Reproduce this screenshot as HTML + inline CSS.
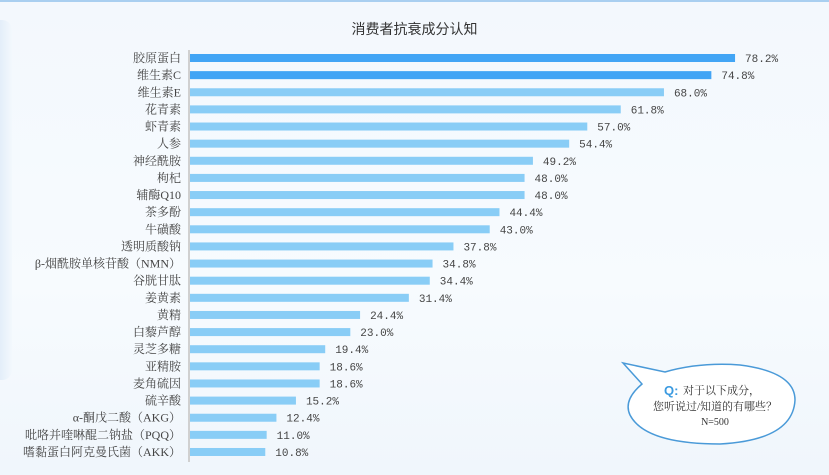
<!DOCTYPE html>
<html><head><meta charset="utf-8">
<style>
html,body{margin:0;padding:0;}
body{width:829px;height:475px;overflow:hidden;background:linear-gradient(#f3f8fd,#f7fbfe 60%,#f0f6fc);position:relative;font-family:"Liberation Serif","Noto Serif CJK SC",serif;}
#topbar{position:absolute;left:0;top:0;width:829px;height:2px;background:#a9cff0;}
#side{position:absolute;left:0;top:20px;width:12px;height:360px;background:linear-gradient(90deg,#e3eef9,#f3f8fd);border-radius:0 10px 10px 0;}
#title{position:absolute;left:0;width:829px;top:19px;text-align:center;font-family:"Liberation Sans","Noto Sans CJK SC",sans-serif;font-size:14px;color:#333;}
</style></head><body>
<div id="topbar"></div>
<div id="side"></div>
<div id="title">消费者抗衰成分认知</div>
<svg id="chart" width="829" height="475" style="position:absolute;left:0;top:0">
<line x1="189" y1="50" x2="189" y2="462" stroke="#d0d0d0" stroke-width="2"/>
<g id="bars"></g>
<g>
<path d="M623,363 L665,372 Q700,362 740,365 Q795,372 795,400 Q793,440 720,444 Q645,444 630,415 Q623,400 642,384 Z" fill="#fff" stroke="#4a9ad8" stroke-width="1.5"/>
<text x="664" y="395" font-size="13" font-weight="bold" fill="#3a9ae0" font-family="Liberation Sans, sans-serif">Q:</text>
<text x="683" y="394" font-size="11" fill="#333">对于以下成分，</text>
<text x="715" y="410" font-size="11" fill="#333" text-anchor="middle">您听说过/知道的有哪些？</text>
<text x="715" y="425" font-size="10" fill="#333" text-anchor="middle">N=500</text>
</g>
</svg>
<script>
const categories=["胶原蛋白","维生素C","维生素E","花青素","虾青素","人参","神经酰胺","枸杞","辅酶Q10","茶多酚","牛磺酸","透明质酸钠","β-烟酰胺单核苷酸（NMN）","谷胱甘肽","姜黄素","黄精","白藜芦醇","灵芝多糖","亚精胺","麦角硫因","硫辛酸","α-酮戊二酸（AKG）","吡咯并喹啉醌二钠盐（PQQ）","嗜黏蛋白阿克曼氏菌（AKK）"];
const values=[78.2,74.8,68.0,61.8,57.0,54.4,49.2,48.0,48.0,44.4,43.0,37.8,34.8,34.4,31.4,24.4,23.0,19.4,18.6,18.6,15.2,12.4,11.0,10.8];
const highlighted=[true,true];
const x0=190,pxPer=6.97,yTop=54,step=17.13,bh=8;
const xs=v=>x0+v*pxPer, ys=i=>yTop+i*step;
const ns="http://www.w3.org/2000/svg",g=document.getElementById('bars');
categories.forEach((c,i)=>{
 const r=document.createElementNS(ns,'rect');
 r.setAttribute('x',x0);r.setAttribute('y',ys(i));r.setAttribute('width',xs(values[i])-x0);r.setAttribute('height',bh);
 r.setAttribute('fill',highlighted[i]?'#42a5f5':'#89cdf6');
 
 
 g.appendChild(r);
 const l=document.createElementNS(ns,'text');
 l.setAttribute('x',181);l.setAttribute('y',ys(i)+bh/2+4);l.setAttribute('text-anchor','end');
 l.setAttribute('font-size','12');l.setAttribute('fill','#444');l.textContent=c;
 
 
 g.appendChild(l);
 const t=document.createElementNS(ns,'text');
 t.setAttribute('x',xs(values[i])+10);t.setAttribute('y',ys(i)+bh/2+4);
 t.setAttribute('font-size','11');t.setAttribute('fill','#444');
 t.setAttribute('font-family','"Liberation Mono","Noto Serif CJK SC",monospace');
 t.textContent=values[i].toFixed(1)+'%';
 
 
 g.appendChild(t);
});
</script>
</body></html>
